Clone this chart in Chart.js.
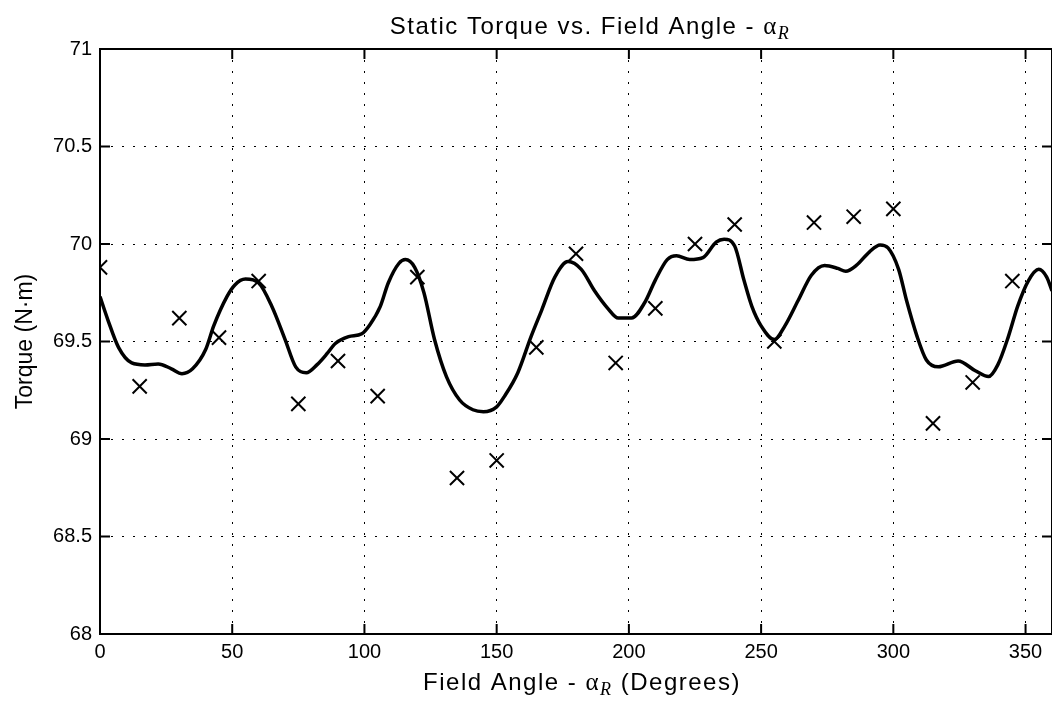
<!DOCTYPE html>
<html>
<head>
<meta charset="utf-8">
<script src="https://cdn.jsdelivr.net/npm/chart.js@4.4.1/dist/chart.umd.min.js"></script>
<style>
  html, body { margin: 0; padding: 0; background: #fff; overflow: hidden; }
  #wrap { width: 1052px; height: 702px; overflow: hidden; }
</style>
</head>
<body>
<div id="wrap"><canvas id="torque-chart" width="1052" height="702"></canvas></div>
<script>
// measured points (every 15 degrees)
const measAngle = [0, 15, 30, 45, 60, 75, 90, 105, 120, 135, 150, 165,
  180, 195, 210, 225, 240, 255, 270, 285, 300, 315, 330, 345];
const measTorque = [69.88, 69.27, 69.62, 69.52, 69.81, 69.18, 69.40, 69.22, 69.83, 68.80, 68.89, 69.47,
  69.95, 69.39, 69.67, 70.00, 70.10, 69.50, 70.11, 70.14, 70.18, 69.08, 69.29, 69.81];

// fitted curve
const curveAngle = [0, 3, 7, 12, 17, 22, 27, 31, 35, 40, 43, 48, 51, 55, 60, 65, 70, 74, 78, 82,
  86, 89, 94, 99, 102, 106, 109, 113, 115.5, 119, 122.5, 126.5, 131, 136, 141, 145, 150, 153, 158, 163,
  167, 172, 177, 182, 187, 192, 196, 201, 206, 210, 214.5, 218, 223, 228, 233, 236, 240, 243.5, 246.5, 250,
  255, 259, 264, 269, 274, 279, 282, 286, 291, 295, 298, 302, 305, 309, 312.5, 317, 324.5, 331, 336, 339.5,
  343.5, 347, 351, 355, 358, 360];
const curveTorque = [69.73, 69.61, 69.47, 69.39, 69.38, 69.385, 69.36, 69.335, 69.36, 69.46, 69.58, 69.73, 69.79, 69.82, 69.80, 69.68, 69.51, 69.37, 69.34, 69.38,
  69.44, 69.49, 69.525, 69.54, 69.585, 69.68, 69.80, 69.90, 69.92, 69.88, 69.75, 69.51, 69.32, 69.20, 69.15, 69.14, 69.165, 69.22, 69.34, 69.525,
  69.66, 69.83, 69.91, 69.87, 69.76, 69.67, 69.62, 69.62, 69.70, 69.815, 69.92, 69.94, 69.92, 69.93, 70.01, 70.025, 69.99, 69.815, 69.68, 69.58,
  69.51, 69.58, 69.71, 69.84, 69.89, 69.875, 69.86, 69.89, 69.96, 69.995, 69.98, 69.87, 69.71, 69.525, 69.405, 69.37, 69.40, 69.35, 69.32, 69.38,
  69.525, 69.68, 69.81, 69.87, 69.83, 69.76];

const xTicks = [0, 50, 100, 150, 200, 250, 300, 350];
const yTicks = [68, 68.5, 69, 69.5, 70, 70.5, 71];

const SANS = "'Liberation Sans', Arial, Helvetica, sans-serif";
const SERIF = "'Liberation Serif', 'Times New Roman', serif";

function drawRich(ctx, parts, cx, baseline, spacing) {
  ctx.letterSpacing = spacing + "px";
  let total = 0;
  parts.forEach((p) => {
    ctx.font = p.font;
    p.w = ctx.measureText(p.text).width;
    total += p.w;
  });
  let x = cx - total / 2;
  ctx.textAlign = "left";
  ctx.textBaseline = "alphabetic";
  parts.forEach((p) => {
    ctx.font = p.font;
    ctx.fillText(p.text, x, baseline + (p.dy || 0));
    x += p.w;
  });
  ctx.letterSpacing = "0px";
}

// frame, inward ticks, title and x label with subscript
const matlabDecor = {
  id: "matlabDecor",
  afterDraw(chart) {
    const { ctx, chartArea: a, scales } = chart;
    ctx.save();
    ctx.strokeStyle = "#000";
    ctx.fillStyle = "#000";
    ctx.lineWidth = 2;
    ctx.strokeRect(a.left, a.top, a.right - a.left, a.bottom - a.top);

    ctx.beginPath();
    yTicks.forEach((v) => {
      const y = scales.y.getPixelForValue(v);
      ctx.moveTo(a.left, y); ctx.lineTo(a.left + 10, y);
      ctx.moveTo(a.right, y); ctx.lineTo(a.right - 10, y);
    });
    xTicks.forEach((v) => {
      const x = scales.x.getPixelForValue(v);
      ctx.moveTo(x, a.bottom); ctx.lineTo(x, a.bottom - 10);
      ctx.moveTo(x, a.top); ctx.lineTo(x, a.top + 10);
    });
    ctx.stroke();

    drawRich(ctx, [
      { text: "Static Torque vs. Field Angle - ", font: "24px " + SANS },
      { text: "\u03b1", font: "25px " + SERIF },
      { text: "R", font: "italic 18px " + SERIF, dy: 5 },
    ], 590, 34, 1.5);

    drawRich(ctx, [
      { text: "Field Angle - ", font: "24px " + SANS },
      { text: "\u03b1", font: "25px " + SERIF },
      { text: "R", font: "italic 18px " + SERIF, dy: 5 },
      { text: " (Degrees)", font: "24px " + SANS },
    ], 582, 690, 1.5);
    ctx.restore();
  },
};

const ctx = document.getElementById("torque-chart").getContext("2d");

new Chart(ctx, {
  type: "scatter",
  data: {
    datasets: [
      {
        label: "Fit",
        data: curveAngle.map((a, i) => ({ x: a, y: curveTorque[i] })),
        showLine: true,
        borderColor: "#000",
        borderWidth: 3.5,
        pointRadius: 0,
        cubicInterpolationMode: "monotone",
      },
      {
        label: "Measured",
        data: measAngle.map((a, i) => ({ x: a, y: measTorque[i] })),
        showLine: false,
        pointStyle: "crossRot",
        pointRadius: 10,
        borderColor: "#000",
        borderWidth: 2,
      },
    ],
  },
  options: {
    responsive: false,
    animation: false,
    devicePixelRatio: 1,
    layout: { autoPadding: false, padding: { top: 49, right: -2, left: 0, bottom: 0 } },
    plugins: {
      legend: { display: false },
      tooltip: { enabled: false },
      title: { display: false },
    },
    scales: {
      x: {
        type: "linear",
        min: 0,
        max: 360,
        afterFit: (s) => {
          s.height = 68;
          s.paddingLeft = 0;
          s.paddingRight = 0;
        },
        ticks: {
          stepSize: 50,
          includeBounds: false,
          color: "#000",
          font: { family: SANS, size: 20 },
          padding: 6,
          maxRotation: 0,
        },
        grid: { color: "#000", lineWidth: 1, drawTicks: false },
        border: { display: false, dash: [2, 9] },
      },
      y: {
        min: 68,
        max: 71,
        afterFit: (s) => {
          s.width = 100;
          s.paddingTop = 0;
          s.paddingBottom = 0;
        },
        ticks: {
          stepSize: 0.5,
          color: "#000",
          font: { family: SANS, size: 20 },
          padding: 8,
          callback: (v) => String(+v.toFixed(1)),
        },
        grid: { color: "#000", lineWidth: 1, drawTicks: false },
        border: { display: false, dash: [2, 9] },
        title: {
          display: true,
          text: "Torque (N\u00b7m)",
          color: "#000",
          font: { family: SANS, size: 23 },
          padding: { top: 12, bottom: 0 },
        },
      },
    },
  },
  plugins: [matlabDecor],
});
</script>
</body>
</html>
